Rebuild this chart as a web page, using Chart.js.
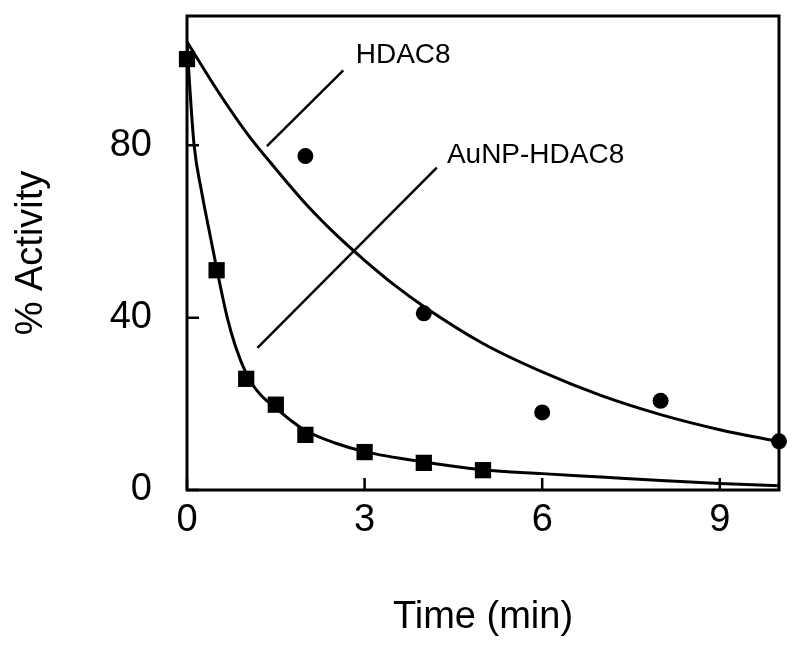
<!DOCTYPE html>
<html>
<head>
    <title>HDAC8 activity decay</title>
    <script src="https://cdn.jsdelivr.net/npm/chart.js"></script>
    <style>
        body { margin: 0; background: #fff; }
    </style>
</head>
<body>
    <canvas id="myChart" width="800" height="656"></canvas>

    <script>
        // measured points
        var hdacTime = [0, 2, 4, 6, 8, 10];
        var hdacActivity = [100, 77.5, 41, 18, 20.7, 11.3];
        var aunpTime = [0, 0.5, 1, 1.5, 2, 3, 4, 5];
        var aunpActivity = [100, 51, 25.8, 19.8, 12.8, 8.8, 6.3, 4.6];

        // fitted curves
        var hdacFitTime = [0, 0.5, 1, 1.5, 2, 2.5, 3, 3.5, 4, 5, 6, 7, 8, 9, 10];
        var hdacFitActivity = [104, 93, 83, 74.5, 66.5, 59.5, 53.3, 47.6, 42.6, 34, 27.4, 21.9, 17.5, 14, 11.2];
        var aunpFitTime = [0, 0.04, 0.12, 0.25, 0.37, 0.5, 0.68, 0.82, 1, 1.1, 1.25, 1.5, 1.75, 2, 2.5, 3, 4, 5, 6, 7, 8, 9, 10];
        var aunpFitActivity = [104, 95, 80, 69, 60.5, 51.5, 40, 33.3, 27, 24.6, 22, 19, 16.2, 13.8, 10.9, 8.9, 6.5, 4.7, 3.8, 3.0, 2.2, 1.5, 1.0];

        var xTicks = [0, 3, 6, 9];
        var yTicks = [0, 40, 80];

        // leader lines and labels, in data units
        var labels = [
            { text: 'HDAC8', from: [1.35, 79.8], to: [2.64, 97.4], at: [2.85, 99] },
            { text: 'AuNP-HDAC8', from: [1.19, 33], to: [4.22, 74.8], at: [4.39, 75.8] }
        ];

        function pts(xs, ys) {
            return xs.map(function (x, i) { return { x: x, y: ys[i] }; });
        }

        var fontFamily = "'Liberation Sans', Arial, sans-serif";

        var framePlugin = {
            id: 'frame',
            beforeDatasetsDraw: function (chart) {
                var c = chart.ctx, a = chart.chartArea;
                var xs = chart.scales.x, ys = chart.scales.y;
                c.save();
                c.strokeStyle = '#000';
                c.lineWidth = 3;
                c.strokeRect(a.left, a.top, a.right - a.left, a.bottom - a.top);
                c.lineWidth = 2.5;
                c.beginPath();
                xTicks.forEach(function (v) {
                    var px = xs.getPixelForValue(v);
                    c.moveTo(px, a.bottom);
                    c.lineTo(px, a.bottom - 12);
                });
                yTicks.forEach(function (v) {
                    var py = ys.getPixelForValue(v);
                    c.moveTo(a.left, py);
                    c.lineTo(a.left + 12, py);
                });
                c.stroke();
                c.restore();
            },
            afterDatasetsDraw: function (chart) {
                var c = chart.ctx;
                var xs = chart.scales.x, ys = chart.scales.y;
                c.save();
                c.strokeStyle = '#000';
                c.fillStyle = '#000';
                c.lineWidth = 2.5;
                c.font = '28px ' + fontFamily;
                c.textBaseline = 'alphabetic';
                labels.forEach(function (l) {
                    c.beginPath();
                    c.moveTo(xs.getPixelForValue(l.from[0]), ys.getPixelForValue(l.from[1]));
                    c.lineTo(xs.getPixelForValue(l.to[0]), ys.getPixelForValue(l.to[1]));
                    c.stroke();
                    c.fillText(l.text, xs.getPixelForValue(l.at[0]), ys.getPixelForValue(l.at[1]));
                });
                c.restore();
            }
        };

        var ctx = document.getElementById('myChart').getContext('2d');
        var myChart = new Chart(ctx, {
            type: 'scatter',
            data: {
                datasets: [{
                    label: 'AuNP-HDAC8',
                    data: pts(aunpTime, aunpActivity),
                    pointStyle: 'rect',
                    pointRadius: 11.5,
                    backgroundColor: '#000',
                    borderColor: '#000',
                    borderWidth: 0,
                    clip: false,
                    order: 1
                }, {
                    label: 'HDAC8',
                    data: pts(hdacTime, hdacActivity),
                    pointStyle: 'circle',
                    pointRadius: 8,
                    backgroundColor: '#000',
                    borderColor: '#000',
                    borderWidth: 0,
                    clip: false,
                    order: 2
                }, {
                    label: 'AuNP-HDAC8 fit',
                    type: 'line',
                    data: pts(aunpFitTime, aunpFitActivity),
                    borderColor: '#000',
                    borderWidth: 3,
                    pointRadius: 0,
                    cubicInterpolationMode: 'monotone',
                    fill: false,
                    order: 3
                }, {
                    label: 'HDAC8 fit',
                    type: 'line',
                    data: pts(hdacFitTime, hdacFitActivity),
                    borderColor: '#000',
                    borderWidth: 3,
                    pointRadius: 0,
                    cubicInterpolationMode: 'monotone',
                    fill: false,
                    order: 4
                }]
            },
            options: {
                responsive: false,
                animation: false,
                layout: { padding: { top: 16, right: 21, left: 0, bottom: 0 } },
                plugins: {
                    legend: { display: false },
                    tooltip: { enabled: false }
                },
                scales: {
                    x: {
                        type: 'linear',
                        min: 0,
                        max: 10,
                        grid: { display: false },
                        border: { display: false },
                        afterBuildTicks: function (scale) {
                            scale.ticks = xTicks.map(function (v) { return { value: v }; });
                        },
                        afterFit: function (scale) {
                            scale.height = 166;
                            scale.paddingLeft = 0;
                            scale.paddingRight = 0;
                        },
                        ticks: {
                            color: '#000',
                            padding: 0,
                            maxRotation: 0,
                            font: { family: fontFamily, size: 38 }
                        },
                        title: {
                            display: true,
                            text: 'Time (min)',
                            color: '#000',
                            padding: { top: 0, bottom: 16 },
                            font: { family: fontFamily, size: 38 }
                        }
                    },
                    y: {
                        min: 0,
                        max: 110,
                        grid: { display: false },
                        border: { display: false },
                        afterBuildTicks: function (scale) {
                            scale.ticks = yTicks.map(function (v) { return { value: v }; });
                        },
                        afterFit: function (scale) {
                            scale.width = 187;
                            scale.paddingTop = 0;
                            scale.paddingBottom = 0;
                        },
                        ticks: {
                            color: '#000',
                            padding: 27,
                            font: { family: fontFamily, size: 38 }
                        },
                        title: {
                            display: true,
                            text: '% Activity',
                            color: '#000',
                            padding: { top: 9, bottom: 0 },
                            font: { family: fontFamily, size: 38 }
                        }
                    }
                }
            },
            plugins: [framePlugin]
        });
    </script>
</body>
</html>
